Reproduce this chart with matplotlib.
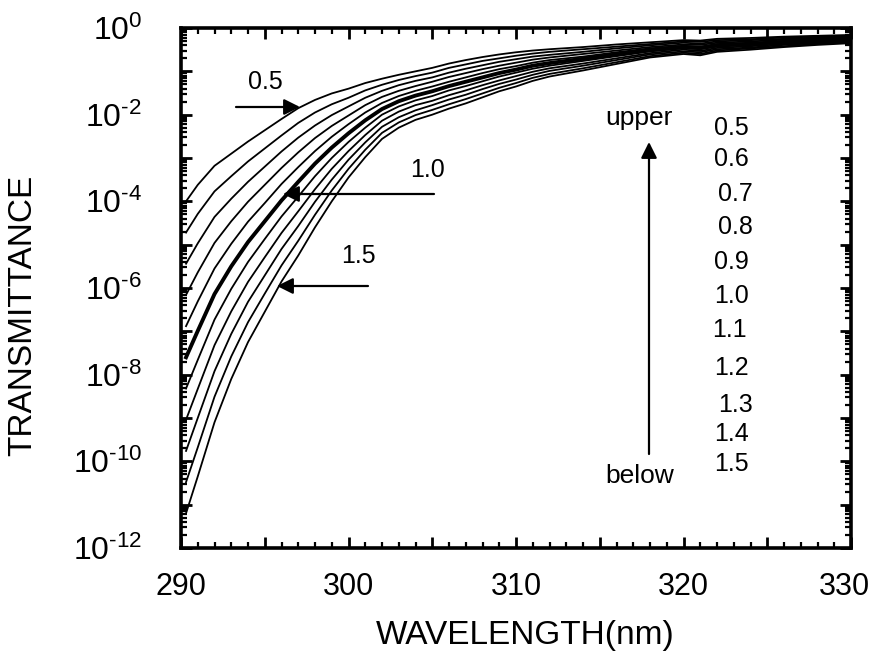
import numpy as np
import matplotlib
matplotlib.use("Agg")
import matplotlib.pyplot as plt
import matplotlib.transforms as mtransforms
from matplotlib.ticker import MultipleLocator, FuncFormatter, LogLocator, NullFormatter

plt.rcParams['font.family'] = ['Liberation Sans', 'DejaVu Sans']
plt.rcParams['mathtext.fontset'] = 'custom'
plt.rcParams['mathtext.rm'] = 'Liberation Sans'
plt.rcParams['mathtext.it'] = 'Liberation Sans'

# ---------------- data (log10 of transmittance) -------------
wavelength = [290.3, 291, 292, 293, 294, 295, 296, 297, 298, 299, 300, 301, 302, 303,
              304, 305, 306, 307, 308, 309, 310, 311, 312, 314, 316, 318, 320, 321,
              322, 324, 326, 328, 330]

ozone_labels = ['0.5', '0.6', '0.7', '0.8', '0.9', '1.0', '1.1', '1.2', '1.3', '1.4', '1.5']

log_t_05 = [-4.00, -3.62, -3.18, -2.90, -2.62, -2.36, -2.10, -1.85, -1.66, -1.51, -1.40, -1.27, -1.17, -1.08, -1.00, -0.92, -0.82, -0.74, -0.67, -0.61, -0.56, -0.52, -0.49, -0.44, -0.38, -0.33, -0.28, -0.29, -0.25, -0.23, -0.20, -0.18, -0.16]
log_t_06 = [-4.72, -4.29, -3.77, -3.42, -3.08, -2.78, -2.48, -2.19, -1.95, -1.76, -1.61, -1.44, -1.31, -1.20, -1.11, -1.03, -0.92, -0.84, -0.76, -0.70, -0.64, -0.59, -0.55, -0.49, -0.43, -0.37, -0.31, -0.32, -0.28, -0.26, -0.22, -0.20, -0.18]
log_t_07 = [-5.44, -4.97, -4.36, -3.94, -3.55, -3.20, -2.85, -2.53, -2.25, -2.01, -1.81, -1.61, -1.45, -1.32, -1.22, -1.14, -1.03, -0.94, -0.86, -0.78, -0.72, -0.66, -0.62, -0.55, -0.47, -0.40, -0.34, -0.36, -0.31, -0.28, -0.25, -0.22, -0.20]
log_t_08 = [-6.16, -5.64, -4.96, -4.46, -4.01, -3.62, -3.23, -2.87, -2.54, -2.26, -2.02, -1.78, -1.59, -1.45, -1.34, -1.24, -1.13, -1.04, -0.95, -0.87, -0.80, -0.73, -0.68, -0.60, -0.52, -0.44, -0.38, -0.39, -0.34, -0.31, -0.27, -0.24, -0.22]
log_t_09 = [-6.88, -6.31, -5.55, -4.98, -4.47, -4.04, -3.60, -3.21, -2.84, -2.51, -2.22, -1.95, -1.73, -1.57, -1.45, -1.35, -1.24, -1.14, -1.04, -0.95, -0.88, -0.80, -0.74, -0.66, -0.56, -0.47, -0.41, -0.43, -0.37, -0.34, -0.30, -0.26, -0.24]
log_t_10 = [-7.60, -6.99, -6.14, -5.50, -4.94, -4.46, -3.98, -3.55, -3.13, -2.76, -2.43, -2.13, -1.87, -1.69, -1.56, -1.46, -1.34, -1.24, -1.14, -1.04, -0.96, -0.87, -0.81, -0.71, -0.61, -0.51, -0.44, -0.46, -0.40, -0.37, -0.32, -0.29, -0.26]
log_t_11 = [-8.32, -7.66, -6.73, -6.02, -5.40, -4.87, -4.35, -3.89, -3.42, -3.00, -2.63, -2.30, -2.00, -1.81, -1.67, -1.57, -1.44, -1.34, -1.23, -1.12, -1.03, -0.94, -0.87, -0.76, -0.65, -0.54, -0.47, -0.49, -0.43, -0.39, -0.34, -0.31, -0.27]
log_t_12 = [-9.04, -8.33, -7.32, -6.54, -5.86, -5.29, -4.73, -4.23, -3.72, -3.25, -2.84, -2.47, -2.14, -1.93, -1.78, -1.68, -1.55, -1.44, -1.32, -1.21, -1.11, -1.01, -0.93, -0.82, -0.70, -0.58, -0.50, -0.53, -0.46, -0.42, -0.37, -0.33, -0.29]
log_t_13 = [-9.76, -9.00, -7.92, -7.06, -6.32, -5.71, -5.10, -4.57, -4.01, -3.50, -3.04, -2.64, -2.28, -2.06, -1.90, -1.78, -1.65, -1.54, -1.41, -1.29, -1.19, -1.08, -0.99, -0.87, -0.74, -0.61, -0.54, -0.56, -0.49, -0.45, -0.39, -0.35, -0.31]
log_t_14 = [-10.48, -9.68, -8.51, -7.58, -6.79, -6.13, -5.48, -4.91, -4.31, -3.75, -3.25, -2.81, -2.42, -2.18, -2.01, -1.89, -1.76, -1.64, -1.51, -1.38, -1.27, -1.15, -1.06, -0.93, -0.79, -0.65, -0.57, -0.60, -0.52, -0.47, -0.42, -0.37, -0.33]
log_t_15 = [-11.20, -10.35, -9.10, -8.10, -7.25, -6.55, -5.85, -5.25, -4.60, -4.00, -3.45, -2.98, -2.56, -2.30, -2.12, -2.00, -1.86, -1.74, -1.60, -1.46, -1.35, -1.22, -1.12, -0.98, -0.83, -0.68, -0.60, -0.63, -0.55, -0.50, -0.44, -0.39, -0.35]

curves = [log_t_05, log_t_06, log_t_07, log_t_08, log_t_09, log_t_10,
          log_t_11, log_t_12, log_t_13, log_t_14, log_t_15]

# ---------------- figure ----------------
W, H = 873, 658
fig = plt.figure(figsize=(W / 100, H / 100), dpi=100)
ax = fig.add_axes([181 / W, 1 - 548 / H, 670 / W, 520 / H])

def P(x, y):
    return (x / W, 1 - y / H)

for lab, c in zip(ozone_labels, curves):
    lw = 2.8 if lab == '1.0' else 1.3
    ax.plot(wavelength, 10.0 ** np.array(c), color='black', lw=lw,
            solid_joinstyle='round', zorder=3)

ax.set_yscale('log')
ax.set_xlim(290, 330)
ax.set_ylim(1e-12, 1e0)

# x ticks
ax.xaxis.set_major_locator(MultipleLocator(5))
ax.xaxis.set_minor_locator(MultipleLocator(1))
ax.xaxis.set_major_formatter(FuncFormatter(
    lambda v, p: f'{int(round(v))}' if int(round(v)) % 10 == 0 else ''))

# y ticks
ax.yaxis.set_major_locator(LogLocator(base=10, numticks=20))
ax.yaxis.set_minor_locator(LogLocator(base=10, subs=np.arange(2, 10), numticks=200))
ax.yaxis.set_minor_formatter(NullFormatter())

def yfmt(v, p):
    e = int(round(np.log10(v)))
    return r'$10^{\text{%d}}$' % e if e % 2 == 0 else ''
ax.yaxis.set_major_formatter(FuncFormatter(yfmt))

ax.tick_params(which='both', direction='in', top=True, right=True, color='black')
ax.tick_params(which='major', length=8, width=2.0)
ax.tick_params(which='minor', length=4, width=1.6)
ax.tick_params(axis='x', which='major', labelsize=22, pad=17)
ax.tick_params(axis='y', which='major', labelsize=23, pad=28)

for s in ax.spines.values():
    s.set_linewidth(2.6)

ax.set_xlabel('WAVELENGTH(nm)', fontsize=24)
ax.set_ylabel('TRANSMITTANCE', fontsize=24)
ax.xaxis.set_label_coords((525 - 181) / 670, (548 - 620) / 520)
ax.yaxis.set_label_coords((38 - 181) / 670, (548 - 315) / 520)

# nudge the last x tick label ("330") slightly left so it stays inside the canvas,
# as in the reference
fig.canvas.draw()
last_tick = ax.xaxis.get_major_ticks()[-1]
for tk in ax.xaxis.get_major_ticks():
    if abs(tk.get_loc() - 330) < 1e-6:
        last_tick = tk
last_tick.label1.set_transform(last_tick.label1.get_transform() +
                               mtransforms.ScaledTranslation(-7 / 100, 0, fig.dpi_scale_trans))

# ---------------- annotations ----------------
arrow_kw = dict(arrowstyle='-|>', color='black', lw=1.6, mutation_scale=24,
                shrinkA=0, shrinkB=0)

fig.text(*P(265, 82), '0.5', fontsize=18, ha='center', va='center')
ax.annotate('', xy=P(300, 107), xytext=P(236, 107), xycoords='figure fraction',
            textcoords='figure fraction', arrowprops=arrow_kw)

fig.text(*P(428, 170), '1.0', fontsize=18, ha='center', va='center')
ax.annotate('', xy=P(283, 194), xytext=P(434, 194), xycoords='figure fraction',
            textcoords='figure fraction', arrowprops=arrow_kw)

fig.text(*P(358, 256), '1.5', fontsize=18, ha='center', va='center')
ax.annotate('', xy=P(277, 286), xytext=P(368, 286), xycoords='figure fraction',
            textcoords='figure fraction', arrowprops=arrow_kw)

fig.text(*P(639, 118), 'upper', fontsize=19, ha='center', va='center')
fig.text(*P(640, 476), 'below', fontsize=19, ha='center', va='center')
ax.annotate('', xy=P(649, 142), xytext=P(649, 454), xycoords='figure fraction',
            textcoords='figure fraction', arrowprops=arrow_kw)

list_y = [128, 159, 194, 227, 262, 296, 330, 368, 405, 434, 464]
list_x = [731, 731, 735, 735, 731, 731, 729, 731, 736, 731, 731]
for lab, xx, yy in zip(ozone_labels, list_x, list_y):
    fig.text(*P(xx, yy), lab, fontsize=18, ha='center', va='center')

fig.savefig('out.png', dpi=100)
